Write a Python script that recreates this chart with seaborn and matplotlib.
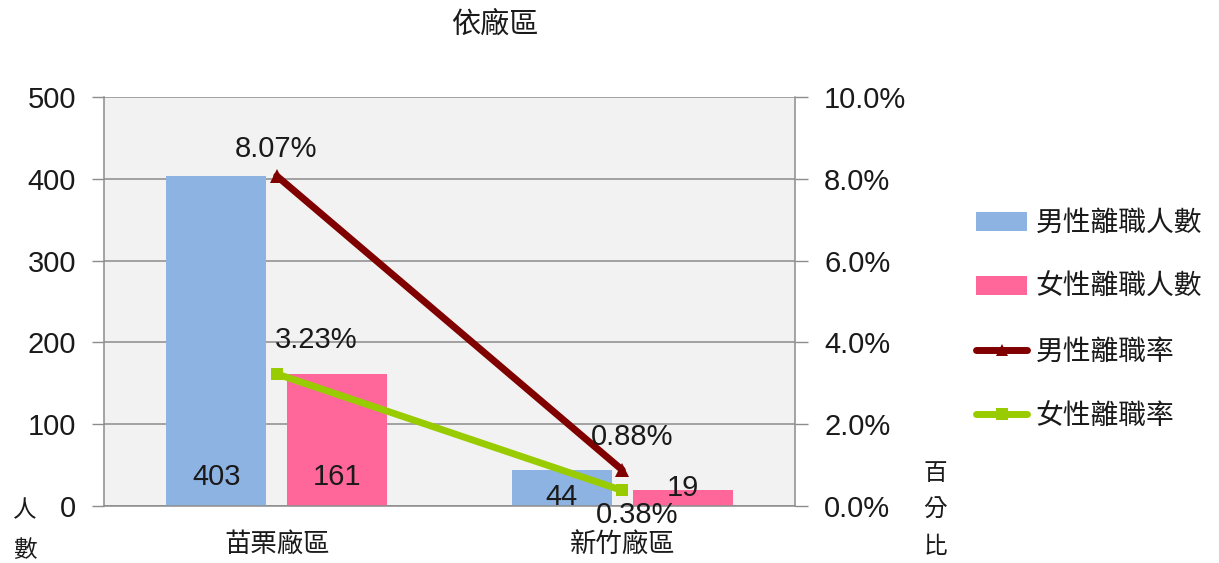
import numpy as np
import pandas as pd
import matplotlib
matplotlib.use("Agg")
import matplotlib.pyplot as plt
import seaborn as sns
from matplotlib.lines import Line2D
from matplotlib.patches import Patch
from matplotlib.ticker import FuncFormatter

# ---- data ----
plants = ["苗栗廠區", "新竹廠區"]
male_count = [403, 44]
female_count = [161, 19]
male_rate = [0.0807, 0.0088]
female_rate = [0.0323, 0.0038]
count_ticks = [0, 100, 200, 300, 400, 500]
rate_ticks = [0.0, 0.02, 0.04, 0.06, 0.08, 0.10]
count_series = ["男性離職人數", "女性離職人數"]
rate_series = ["男性離職率", "女性離職率"]

sns.set_theme(style="white")
plt.rcParams["font.family"] = ["Liberation Sans", "Noto Sans CJK TC", "DejaVu Sans"]

C_MALE_BAR = "#8DB3E2"
C_FEMALE_BAR = "#FF6699"
C_MALE_LINE = "#800000"
C_FEMALE_LINE = "#99CC00"
AXIS_GREY = "#8C8C8C"
TEXT = "#1A1A1A"
NUM_SIZE = 21

fig = plt.figure(figsize=(12.19, 5.63), dpi=100)
ax = fig.add_axes([0.0853, 0.1012, 0.5669, 0.7265])
ax.set_facecolor("#F2F2F2")

counts = pd.DataFrame({
    "廠區": plants * 2,
    "類別": [count_series[0]] * len(plants) + [count_series[1]] * len(plants),
    "人數": male_count + female_count,
})
sns.barplot(data=counts, x="廠區", y="人數", hue="類別", order=plants,
            hue_order=count_series, palette=[C_MALE_BAR, C_FEMALE_BAR],
            width=0.7, gap=0.17, saturation=1, linewidth=0,
            errorbar=None, legend=False, ax=ax, zorder=2)

ax.set_xlim(-0.5, len(plants) - 0.5)
ax.set_ylim(0, 500)
ax.set_yticks(count_ticks)
ax.yaxis.grid(True, color=AXIS_GREY, lw=1.1)
ax.set_axisbelow(True)
ax.set_xlabel("")
ax.set_ylabel("")
ax.set_xticks(range(len(plants)))
ax.set_xticklabels(plants)
ax.set_xticks([-0.5, 0.5, 1.5], minor=True)
ax.tick_params(axis="x", which="major", length=0, pad=19, labelsize=19, labelcolor=TEXT)
ax.tick_params(axis="x", which="minor", direction="out", length=8, width=1, color=AXIS_GREY)
ax.tick_params(axis="y", direction="out", length=9, width=1, color=AXIS_GREY,
               pad=11, labelsize=NUM_SIZE, labelcolor=TEXT, left=True)
for side in ["top", "right"]:
    ax.spines[side].set_visible(False)
for side in ["left", "bottom"]:
    ax.spines[side].set_color(AXIS_GREY)
    ax.spines[side].set_linewidth(1.1)

# bar value labels near the bar base
count_label_y = [[35, 11], [35, 22]]
for container, vals, ys in zip(ax.containers, [male_count, female_count], count_label_y):
    for bar, v, y in zip(container, vals, ys):
        ax.text(bar.get_x() + bar.get_width() / 2, y, f"{v}", ha="center",
                va="center", fontsize=NUM_SIZE, color=TEXT, zorder=5)

# ---- rates on secondary axis ----
ax2 = ax.twinx()
xpos = np.arange(len(plants))
sns.lineplot(x=xpos, y=male_rate, ax=ax2, color=C_MALE_LINE, lw=5,
             marker="^", markersize=10, markeredgewidth=0, zorder=4)
sns.lineplot(x=xpos, y=female_rate, ax=ax2, color=C_FEMALE_LINE, lw=5,
             marker="s", markersize=9, markeredgewidth=0, zorder=4)
ax2.set_ylim(0, 0.10)
ax2.set_yticks(rate_ticks)
ax2.yaxis.set_major_formatter(FuncFormatter(lambda v, _: f"{v * 100:.1f}%"))
ax2.set_xlim(-0.5, len(plants) - 0.5)
ax2.tick_params(axis="y", direction="out", length=9, width=1, color=AXIS_GREY,
                pad=12, labelsize=NUM_SIZE, labelcolor=TEXT, right=True)
for side in ["top", "left", "bottom"]:
    ax2.spines[side].set_visible(False)
ax2.spines["right"].set_color(AXIS_GREY)
ax2.spines["right"].set_linewidth(1.1)
ax2.set_ylabel("")

rate_offsets = {
    0: [(-1, 27), (10, 33)],
    1: [(39, 34), (15, -25)],
}
for s, rates in enumerate([male_rate, female_rate]):
    for i, r in enumerate(rates):
        dx, dy = rate_offsets[s][i]
        ax2.annotate(f"{r * 100:.2f}%", (i, r), xytext=(dx, dy),
                     textcoords="offset pixels", ha="center", va="center",
                     fontsize=NUM_SIZE, color=TEXT, zorder=6)

# ---- titles ----
fig.text(495 / 1219, 1 - 25 / 563, "依廠區", ha="center", va="center",
         fontsize=21, color=TEXT)
fig.text(25 / 1219, 1 - 531 / 563, "人\n數", ha="center", va="center",
         fontsize=17, color=TEXT, linespacing=2.0)
fig.text(935 / 1219, 1 - 511 / 563, "百\n分\n比", ha="center", va="center",
         fontsize=17, color=TEXT, linespacing=1.85)

# ---- legend ----
handles = [
    Patch(facecolor=C_MALE_BAR, edgecolor="none"),
    Patch(facecolor=C_FEMALE_BAR, edgecolor="none"),
    Line2D([], [], color=C_MALE_LINE, lw=5, marker="^", markersize=9, markeredgewidth=0),
    Line2D([], [], color=C_FEMALE_LINE, lw=5, marker="s", markersize=8, markeredgewidth=0),
]
fig.legend(handles, count_series + rate_series, loc="upper left",
           bbox_to_anchor=(951 / 1219, 1 - 186 / 563), frameon=False,
           fontsize=20, labelspacing=1.38, handlelength=1.85,
           handletextpad=0.3, labelcolor=TEXT)

fig.savefig("out.png", dpi=100)
